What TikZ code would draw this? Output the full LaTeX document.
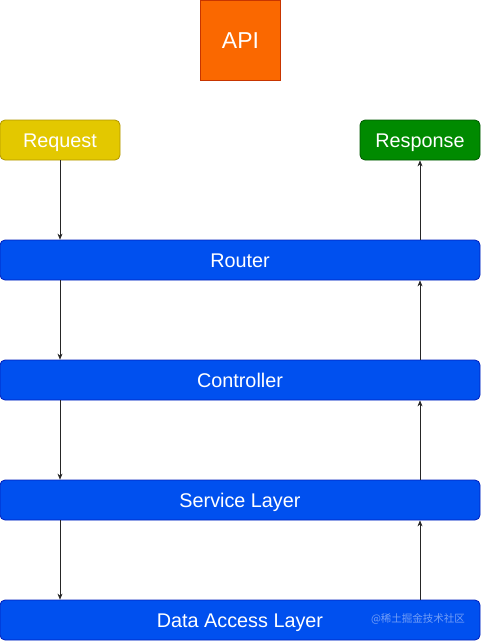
\documentclass[tikz,border=0pt]{standalone}
\usepackage{fontspec}
\setmainfont{Liberation Sans}
\newfontfamily\cjkfont{Noto Sans CJK SC}
\usepackage{xcolor}
\usetikzlibrary{arrows.meta, positioning}

\definecolor{apifill}{HTML}{FA6800}
\definecolor{apiline}{HTML}{C73500}
\definecolor{reqfill}{HTML}{E3C800}
\definecolor{reqline}{HTML}{B09500}
\definecolor{resfill}{HTML}{008A00}
\definecolor{resline}{HTML}{005700}
\definecolor{layerfill}{HTML}{0050EF}
\definecolor{layerline}{HTML}{001DBC}

\begin{document}
\begin{tikzpicture}[x=1pt, y=-1pt,
    box/.style={draw, rounded corners=5pt, minimum height=40pt, inner sep=0pt,
        text height=14pt, text depth=0pt,
        text=white, font=\fontsize{19.8}{22}\selectfont, line width=0.8pt},
    layer/.style={box, fill=layerfill, draw=layerline, minimum width=480pt},
    flow/.style={-{Stealth[length=6pt, width=5pt]}, line width=0.6pt, draw=black!85}]
    \useasboundingbox (0,0) rectangle (481,641);

    % top
    \node[draw=apiline, fill=apifill, line width=0.8pt, minimum width=80pt, minimum height=80pt,
        inner sep=0pt, text height=16.5pt, text depth=0pt,
        text=white, font=\fontsize{23}{26}\selectfont] (api) at (240.5,40) {API};

    % in and out
    \node[box, fill=reqfill, draw=reqline, minimum width=120pt] (request) at (60,140) {Request};
    \node[box, fill=resfill, draw=resline, minimum width=120pt] (response) at (420,140) {Response};

    % layers
    \node[layer] (router) at (240,260) {Router};
    \node[layer] (controller) at (240,380) {Controller};
    \node[layer] (service) at (240,500) {Service Layer};
    \node[layer] (dal) at (240,620) {Data Access Layer};

    \node[text=white, opacity=0.45, font=\cjkfont\fontsize{10.5}{12}\selectfont] (mark) at (418,619) {@稀土掘金技术社区};

    % going down
    \draw[flow] (request.south) -- (request.south |- router.north);
    \draw[flow] (request.south |- router.south) -- (request.south |- controller.north);
    \draw[flow] (request.south |- controller.south) -- (request.south |- service.north);
    \draw[flow] (request.south |- service.south) -- (request.south |- dal.north);

    % coming back up
    \draw[flow] (response.south |- dal.north) -- (response.south |- service.south);
    \draw[flow] (response.south |- service.north) -- (response.south |- controller.south);
    \draw[flow] (response.south |- controller.north) -- (response.south |- router.south);
    \draw[flow] (response.south |- router.north) -- (response.south);
\end{tikzpicture}
\end{document}
